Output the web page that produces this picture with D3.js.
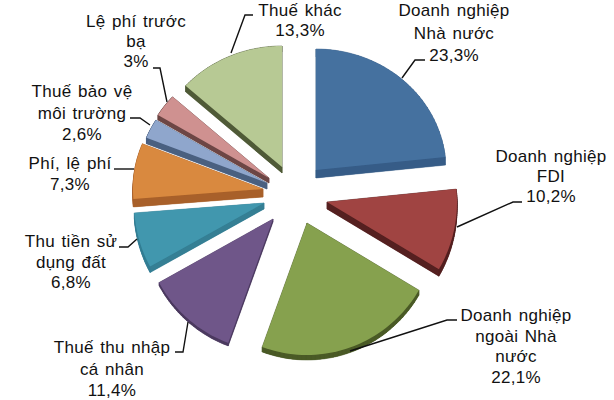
<!DOCTYPE html>
<html><head><meta charset="utf-8"><script src="https://cdn.jsdelivr.net/npm/d3@7"></script>
<style>html,body{margin:0;background:#fff}svg{display:block}</style></head><body><svg id="c" width="614" height="400"></svg>
<script>
const categories=["Doanh nghiệp Nhà nước","Doanh nghiệp FDI","Doanh nghiệp ngoài Nhà nước","Thuế thu nhập cá nhân","Thu tiền sử dụng đất","Phí, lệ phí","Thuế bảo vệ môi trường","Lệ phí trước bạ","Thuế khác"];
const values=[23.3,10.2,22.1,11.4,6.8,7.3,2.6,3,13.3];
const valueLabels=["23,3%","10,2%","22,1%","11,4%","6,8%","7,3%","2,6%","3%","13,3%"];
const topColors=["#45719f","#a04442","#86a14e","#6f5689","#4197ae","#d9893f","#8fa6cc","#cf9190","#b7c994"];
const wallColors=["#365c87","#552020","#4a5a26","#4c3a60","#357f94","#a8602a","#4a6080","#6d4645","#4f5a37"];
// layout
const apex=[[316,170],[327,202],[307,223],[273,219],[264,203],[263,189],[267,183],[269,178],[282,167]];
const depth=[8,7,5,3,6,8,6,5,6];
const rx=130,ryTop=121,ryBottom=132;
const labelLines=[["Doanh nghiệp","Nhà nước","23,3%"],["Doanh nghiệp","FDI","10,2%"],["Doanh nghiệp","ngoài Nhà","nước","22,1%"],["Thuế thu nhập","cá nhân","11,4%"],["Thu tiền sử","dụng đất","6,8%"],["Phí, lệ phí","7,3%"],["Thuế bảo vệ","môi trường","2,6%"],["Lệ phí trước","bạ","3%"],["Thuế khác","13,3%"]];
const labelPos=[[454,16],[551,162],[516,321],[112,353],[71,247],[70,169],[82,97],[136,27],[300,15.5]];
const lineGap=[22.5,20,20.7,21.5,20.5,21,21.5,20,20];
const leaders=[[[402,78],[415,60],[425,60]],[[457,227],[513,202],[522,202]],[[350,351],[447,320],[457,320]],[[188,322],[183,352],[175,352]],[[137,239],[128,247],[119,247]],[[134,169],[114,169]],[[150,125],[140,118],[130,118]],[[167,102],[160,68],[153,68]],[[231,53],[245,15],[253,15]]];

const svg=d3.select("#c");
const arcs=d3.pie().sort(null)(values);
const proj=(a,cx,cy)=>[cx+rx*Math.sin(a),cy-Math.cos(a)*(Math.cos(a)>0?ryTop:ryBottom)];
const line=d3.line();
arcs.forEach((d,i)=>{
  const [cx,cy]=apex[i],dp=depth[i];
  const outer=d3.range(0,41).map(k=>d.startAngle+(d.endAngle-d.startAngle)*k/40);
  const pts=oy=>[[cx,cy+oy],...outer.map(a=>proj(a,cx,cy+oy))];
  const g=svg.append("g");
  // wall: swept between the lower and upper copy of the slice
  const low=pts(dp),up=pts(0);
  g.append("path").attr("d",line(low)+"Z").attr("fill",wallColors[i]);
  low.forEach((p,k)=>{const n=(k+1)%low.length;
    g.append("path").attr("d",line([up[k],up[n],low[n],low[k]])+"Z").attr("fill",wallColors[i]).attr("stroke",wallColors[i]).attr("stroke-width",.5);});
  g.append("path").attr("d",line(up)+"Z").attr("fill",topColors[i]);
});
leaders.forEach(l=>svg.append("path").attr("d",line(l)).attr("fill","none").attr("stroke","#111").attr("stroke-width",1.4));
labelLines.forEach((ls,i)=>{
  const t=svg.append("text").attr("text-anchor","middle").attr("font-family","Liberation Sans").attr("font-size",17).attr("letter-spacing",.3).attr("word-spacing",1.5).attr("fill","#111");
  ls.forEach((s,k)=>t.append("tspan").attr("x",labelPos[i][0]).attr("y",labelPos[i][1]+k*lineGap[i]).text(s));
});
</script></body></html>
